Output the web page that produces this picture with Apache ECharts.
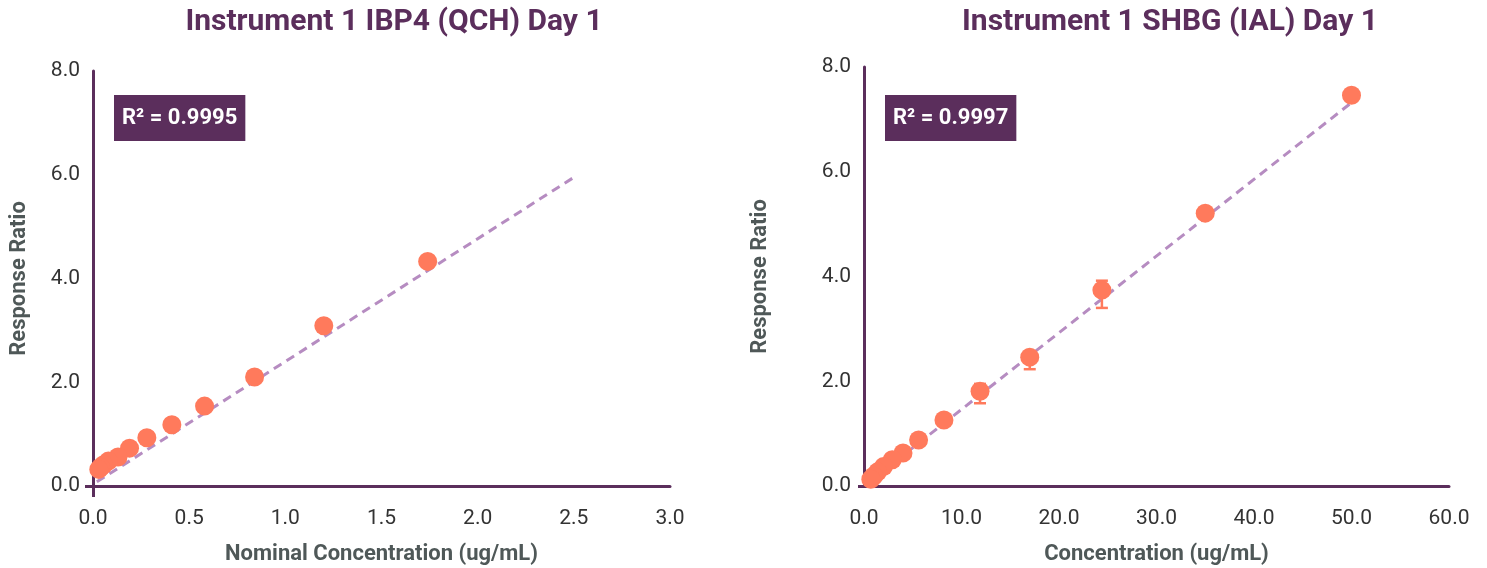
<!DOCTYPE html>
<html>
<head>
<meta charset="utf-8">
<script src="https://cdn.jsdelivr.net/npm/echarts@6/dist/echarts.min.js"></script>
<style>html,body{margin:0;padding:0;background:#fff;}#c{width:1487px;height:568px;}</style>
</head>
<body>
<div id="c"></div>
<script>
// Left chart: Instrument 1 IBP4 (QCH) Day 1
const leftTitle = 'Instrument 1 IBP4 (QCH) Day 1';
const leftXName = 'Nominal Concentration (ug/mL)';
const leftR2 = 'R² = 0.9995';
const leftX = [1.74, 1.20, 0.84, 0.58, 0.41, 0.28, 0.19, 0.13, 0.08, 0.055, 0.04, 0.03];
const leftY = [4.33, 3.09, 2.10, 1.54, 1.18, 0.93, 0.73, 0.56, 0.48, 0.41, 0.36, 0.32];
const leftFitX = [0.02, 2.5];
const leftFitY = [0.08, 5.95];
const leftXTicks = [0, 3, 0.5];

// Right chart: Instrument 1 SHBG (IAL) Day 1
const rightTitle = 'Instrument 1 SHBG (IAL) Day 1';
const rightXName = 'Concentration (ug/mL)';
const rightR2 = 'R² = 0.9997';
const rightX = [50, 35, 24.4, 17.0, 11.9, 8.2, 5.6, 4.0, 2.9, 2.0, 1.4, 1.0, 0.7];
const rightY = [7.46, 5.21, 3.74, 2.46, 1.81, 1.26, 0.88, 0.63, 0.50, 0.37, 0.27, 0.19, 0.13];
const rightErrX = [24.4, 17.0, 11.9];
const rightErrLow = [3.40, 2.23, 1.58];
const rightErrHigh = [3.92, 2.55, 1.95];
const rightFitX = [0.7, 50];
const rightFitY = [0.10, 7.32];
const rightXTicks = [0, 60, 10];

const yName = 'Response Ratio';
const yTicks = [0, 8, 2];

const purple = '#5b2e5c';
const grid = '#e2d2e6';
const coral = '#ff7a5c';
const fitColor = '#b68cc1';
const labelColor = '#333333';
const nameColor = '#4f5858';
const font = 'Roboto';

function zip(a, b) { return a.map((v, i) => [v, b[i]]); }

function xAxis(idx, ticks, name, extendTick) {
  return {
    type: 'value', gridIndex: idx, min: ticks[0], max: ticks[1], interval: ticks[2],
    name: name, nameLocation: 'middle', nameGap: 57,
    nameTextStyle: {color: nameColor, fontSize: 22, fontWeight: 'bold', fontFamily: font},
    axisLine: {show: true, onZero: false, lineStyle: {color: purple, width: 3}},
    axisTick: {show: extendTick, customValues: [0], length: 11, lineStyle: {color: purple, width: 3}},
    axisLabel: {color: labelColor, fontSize: 21, fontFamily: font, margin: 22,
      formatter: v => v.toFixed(1)},
    splitLine: {show: false}
  };
}
function yAxis(idx) {
  return {
    type: 'value', gridIndex: idx, min: yTicks[0], max: yTicks[1], interval: yTicks[2],
    name: yName, nameLocation: 'middle', nameGap: idx === 0 ? 63 : 93, nameRotate: 90,
    nameTextStyle: {color: nameColor, fontSize: 22, fontWeight: 'bold', fontFamily: font},
    axisLine: {show: true, onZero: false, lineStyle: {color: purple, width: 3}},
    axisTick: {show: true, customValues: [0], length: idx === 0 ? 8 : 6, lineStyle: {color: purple, width: 3}},
    axisLabel: {color: labelColor, fontSize: 21, fontFamily: font, margin: 13,
      formatter: v => v.toFixed(1)},
    splitLine: {show: true, lineStyle: {color: grid, width: 1.5}}
  };
}

const chart = echarts.init(document.getElementById('c'), null, {renderer: 'canvas'});
chart.setOption({
  animation: false,
  backgroundColor: '#ffffff',
  title: [
    {text: leftTitle, left: 389, top: 2, textAlign: 'center',
      textStyle: {color: purple, fontSize: 30, fontWeight: 'bold', fontFamily: font}},
    {text: rightTitle, left: 1165, top: 2, textAlign: 'center',
      textStyle: {color: purple, fontSize: 30, fontWeight: 'bold', fontFamily: font}},
    {text: leftR2, left: 114, top: 95, backgroundColor: purple, padding: [10, 8, 10, 8],
      textStyle: {color: '#ffffff', fontSize: 22, fontWeight: 'bold', fontFamily: font, lineHeight: 26}},
    {text: rightR2, left: 885, top: 95, backgroundColor: purple, padding: [10, 8, 10, 8],
      textStyle: {color: '#ffffff', fontSize: 22, fontWeight: 'bold', fontFamily: font, lineHeight: 26}}
  ],
  grid: [
    {left: 93, right: 1487 - 670, top: 71, bottom: 568 - 486, containLabel: false, outerBoundsMode: 'none'},
    {left: 864, right: 1487 - 1449, top: 67, bottom: 568 - 486, containLabel: false, outerBoundsMode: 'none'}
  ],
  xAxis: [xAxis(0, leftXTicks, leftXName, true), xAxis(1, rightXTicks, rightXName, false)],
  yAxis: [yAxis(0), yAxis(1)],
  series: [
    {type: 'line', xAxisIndex: 0, yAxisIndex: 0, data: zip(leftFitX, leftFitY), symbol: 'none',
      lineStyle: {color: fitColor, width: 3, type: [9, 6]}, z: 2},
    {type: 'scatter', xAxisIndex: 0, yAxisIndex: 0, data: zip(leftX, leftY), symbolSize: 19,
      itemStyle: {color: coral, opacity: 1}, z: 3},
    {type: 'line', xAxisIndex: 1, yAxisIndex: 1, data: zip(rightFitX, rightFitY), symbol: 'none',
      lineStyle: {color: fitColor, width: 3, type: [9, 6]}, z: 2},
    {type: 'custom', xAxisIndex: 1, yAxisIndex: 1,
      data: rightErrX.map((x, i) => [x, rightErrLow[i], rightErrHigh[i]]),
      renderItem: function (params, api) {
        const lo = api.coord([api.value(0), api.value(1)]);
        const hi = api.coord([api.value(0), api.value(2)]);
        const w = 6;
        const st = {stroke: coral, lineWidth: 2.5};
        return {type: 'group', children: [
          {type: 'line', shape: {x1: lo[0], y1: lo[1], x2: hi[0], y2: hi[1]}, style: st},
          {type: 'line', shape: {x1: lo[0] - w, y1: lo[1], x2: lo[0] + w, y2: lo[1]}, style: st},
          {type: 'line', shape: {x1: hi[0] - w, y1: hi[1], x2: hi[0] + w, y2: hi[1]}, style: st}
        ]};
      }, z: 3},
    {type: 'scatter', xAxisIndex: 1, yAxisIndex: 1, data: zip(rightX, rightY), symbolSize: 19,
      itemStyle: {color: coral, opacity: 1}, z: 4}
  ]
});
</script>
</body>
</html>
